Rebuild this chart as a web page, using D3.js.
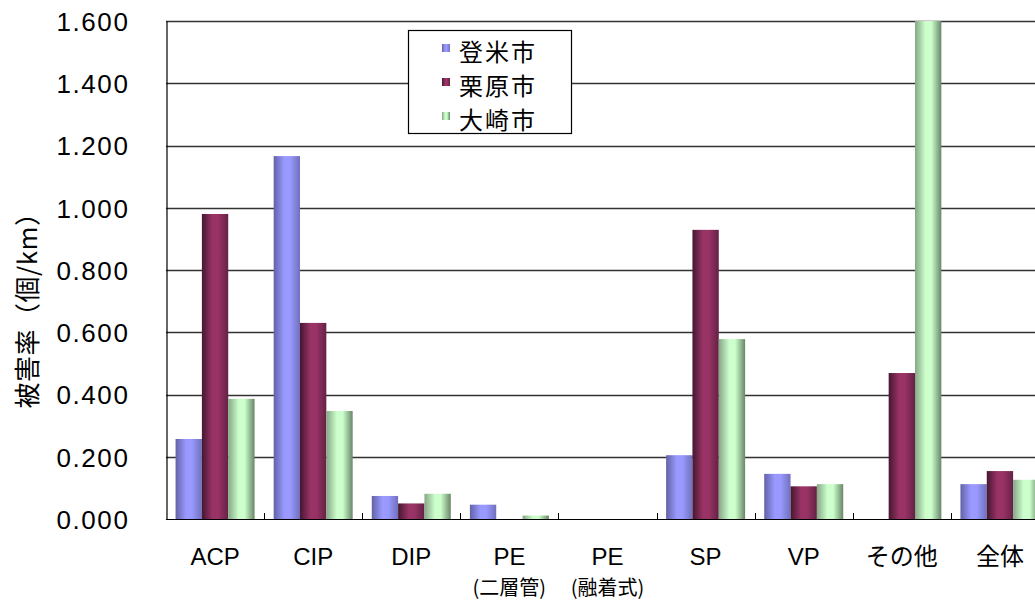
<!DOCTYPE html>
<html>
<head>
<meta charset="utf-8">
<script src="https://cdn.jsdelivr.net/npm/d3@7"></script>
<style>
  html, body { margin: 0; padding: 0; background: #fff; }
  svg { display: block; }
  text { font-family: "Liberation Sans", Arial, "Noto Sans CJK JP", sans-serif; fill: #000; }
  .jp { font-family: "Noto Sans CJK JP", "Liberation Sans", sans-serif; }
</style>
</head>
<body>
<svg id="chart" width="1035" height="601"></svg>
<script>
// Pipe categories (second line of label where present)
const categories = ["ACP", "CIP", "DIP", "PE", "PE", "SP", "VP", "その他", "全体"];
const categorySub = ["", "", "", "(二層管)", "(融着式)", "", "", "", ""];
const seriesNames = ["登米市", "栗原市", "大崎市"];
// Damage rate (per km) for each city
const tomeValues    = [0.257, 1.166, 0.074, 0.046, 0.000, 0.205, 0.145, 0.000, 0.112];
const kuriharaValues = [0.980, 0.630, 0.050, 0.000, 0.000, 0.929, 0.105, 0.469, 0.154];
const osakiValues   = [0.386, 0.347, 0.081, 0.011, 0.000, 0.578, 0.112, 1.600, 0.126];
const yTicks = [0, 0.2, 0.4, 0.6, 0.8, 1.0, 1.2, 1.4, 1.6];
const yTitle = "被害率（個/km）";

const seriesValues = [tomeValues, kuriharaValues, osakiValues];
const palette = [
  { dark: "#6262a6", base: "#9999ff", edge: "#7070bc" },
  { dark: "#451730", base: "#993366", edge: "#642244" },
  { dark: "#86a686", base: "#ccffcc", edge: "#688668" }
];

const svg = d3.select("#chart");
const plot = { left: 166, top: 21, right: 1049, bottom: 519 };

const defs = svg.append("defs");
palette.forEach((p, i) => {
  const g = defs.append("linearGradient").attr("id", "grad" + i)
    .attr("x1", "0%").attr("x2", "100%").attr("y1", "0%").attr("y2", "0%");
  g.append("stop").attr("offset", "0%").attr("stop-color", p.dark);
  g.append("stop").attr("offset", "40%").attr("stop-color", p.base);
  g.append("stop").attr("offset", "62%").attr("stop-color", p.base);
  g.append("stop").attr("offset", "100%").attr("stop-color", p.edge);
});

const x = d3.scaleBand().domain(d3.range(categories.length))
  .range([plot.left, plot.right]).padding(0);
const xs = d3.scaleBand().domain(d3.range(seriesNames.length))
  .range([0, x.bandwidth()]).paddingInner(0).paddingOuter(0.363);
const y = d3.scaleLinear().domain([0, 1.6]).range([plot.bottom, plot.top]);

// Horizontal gridlines
svg.append("g").selectAll("line").data(yTicks.filter(v => v > 0)).join("line")
  .attr("x1", plot.left).attr("x2", plot.right)
  .attr("y1", d => Math.round(y(d)) + 0.5).attr("y2", d => Math.round(y(d)) + 0.5)
  .attr("stroke", "#333").attr("stroke-width", 1.4);

// Bars
const groups = svg.append("g").selectAll("g").data(seriesValues).join("g")
  .attr("fill", (d, i) => `url(#grad${i})`);
groups.each(function (vals, si) {
  d3.select(this).selectAll("rect").data(vals).join("rect")
    .attr("x", (d, ci) => x(ci) + xs(si))
    .attr("width", xs.bandwidth())
    .attr("y", d => y(d))
    .attr("height", d => plot.bottom - y(d));
});

// Y axis
const yAxis = d3.axisLeft(y).tickValues(yTicks).tickSize(0).tickPadding(0)
  .tickFormat(d3.format(".3f"));
const yg = svg.append("g").attr("transform", `translate(${plot.left + 0.5},0)`).call(yAxis);
yg.select(".domain").attr("stroke", "#000").attr("stroke-width", 1.2);
yg.selectAll("text").attr("x", -37).attr("dy", "0.36em")
  .style("font-size", "26px").style("letter-spacing", "1.6px")
  .style("font-family", '"Liberation Sans", Arial, sans-serif').attr("fill", "#000");

// X axis with short inward ticks at band boundaries
const xg = svg.append("g");
xg.append("line").attr("x1", plot.left).attr("x2", plot.right)
  .attr("y1", plot.bottom + 0.5).attr("y2", plot.bottom + 0.5)
  .attr("stroke", "#000").attr("stroke-width", 1.2);
xg.selectAll("line.tk").data(d3.range(1, categories.length + 1)).join("line")
  .attr("class", "tk")
  .attr("x1", i => Math.round(x(i - 1) + x.bandwidth()) + 0.5)
  .attr("x2", i => Math.round(x(i - 1) + x.bandwidth()) + 0.5)
  .attr("y1", plot.bottom - 6).attr("y2", plot.bottom)
  .attr("stroke", "#000").attr("stroke-width", 1);

// Category labels and their second lines
xg.selectAll("text.cat").data(categories).join("text")
  .attr("class", "cat")
  .attr("x", (d, i) => x(i) + x.bandwidth() / 2)
  .attr("y", 565)
  .attr("text-anchor", "middle")
  .style("font-size", "24px")
  .text(d => d);
xg.selectAll("text.sub").data(categorySub.map((s, i) => ({ s, i })).filter(d => d.s)).join("text")
  .attr("class", "sub jp")
  .attr("x", d => x(d.i) + x.bandwidth() / 2)
  .attr("y", 595)
  .attr("text-anchor", "middle")
  .style("font-size", "20px")
  .text(d => d.s);

// Y axis title
svg.append("text").attr("class", "jp")
  .attr("transform", "translate(37,304) rotate(-90)")
  .attr("text-anchor", "middle")
  .style("font-size", "26px")
  .style("letter-spacing", "0.5px")
  .text(yTitle);

// Legend
const legend = svg.append("g");
legend.append("rect").attr("x", 408.5).attr("y", 30.5).attr("width", 163).attr("height", 103)
  .attr("fill", "#fff").attr("stroke", "#000").attr("stroke-width", 1.2);
const rows = legend.selectAll("g").data(seriesNames).join("g")
  .attr("transform", (d, i) => `translate(0,${52 + i * 34})`);
rows.append("rect").attr("x", 442).attr("y", -8).attr("width", 8).attr("height", 8)
  .attr("fill", (d, i) => `url(#grad${i})`);
rows.append("text").attr("class", "jp").attr("x", 459).attr("dy", "0.36em")
  .style("font-size", "24px").style("letter-spacing", "2px")
  .text(d => d);
</script>
</body>
</html>
